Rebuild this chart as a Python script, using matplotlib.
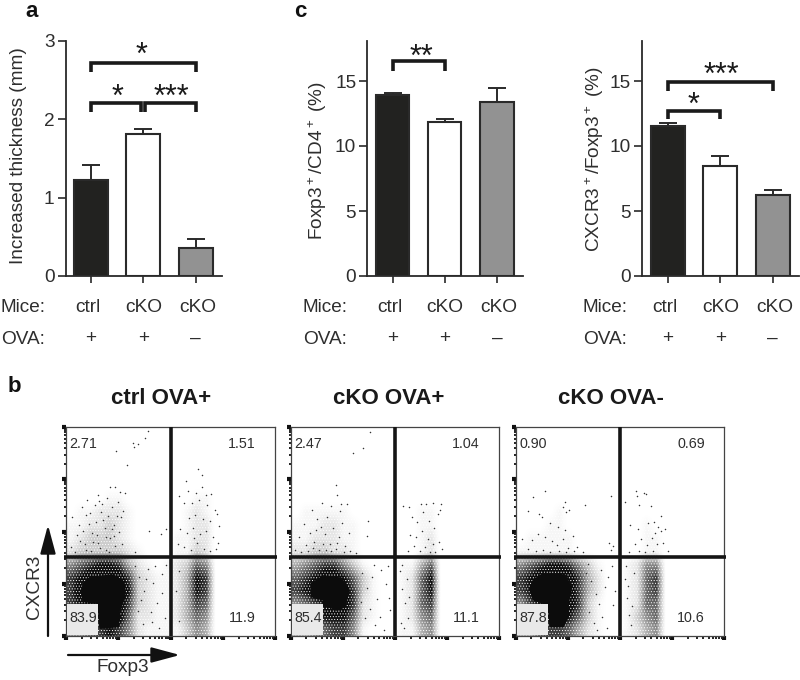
"""Footpad thickness, Treg percentages and CXCR3/Foxp3 flow plots (panels a, b, c)."""

import numpy as np
import matplotlib
matplotlib.use("Agg")
import matplotlib.pyplot as plt
from matplotlib.colors import LinearSegmentedColormap, PowerNorm
from matplotlib.patches import Polygon, Rectangle

plt.rcParams["font.family"] = ["Liberation Sans", "DejaVu Sans"]
plt.rcParams["mathtext.default"] = "regular"
plt.rcParams["hatch.linewidth"] = 0.4

# =============================================================================
# DATA
# =============================================================================

MICE = ["ctrl", "cKO", "cKO"]
OVA = ["+", "+", "–"]
BAR_COLORS = ["#222220", "#ffffff", "#929292"]

THICKNESS = [1.23, 1.81, 0.36]
THICKNESS_ERR = [0.19, 0.06, 0.11]
FOXP3_CD4 = [13.9, 11.82, 13.4]
FOXP3_CD4_ERR = [0.2, 0.23, 1.05]
CXCR3_FOXP3 = [11.5, 8.45, 6.25]
CXCR3_FOXP3_ERR = [0.25, 0.8, 0.35]

# Flow gates, panel units 0-100
GATE_X = 50
GATE_Y = 38
FLOW_MAJOR = [0, 25, 50, 75, 100]
FLOW_MINOR = [7.5, 11.9, 15, 17.5, 19.5, 21.1, 22.6, 23.9]

CTRL_LABELS = ["2.71", "1.51", "83.9", "11.9"]
CKO_POS_LABELS = ["2.47", "1.04", "85.4", "11.1"]
CKO_NEG_LABELS = ["0.90", "0.69", "87.8", "10.6"]

# Event density read by eye, 0 (empty) to 9 (solid); top row first, x 0-74, y 0-75
CTRL_DENSITY = [
    "0000000000000000",
    "0000110000000110",
    "0112221000001210",
    "1122321000001220",
    "1233321000011220",
    "2333332100011320",
    "5678874210123650",
    "7899997321124870",
    "7999998321124870",
    "7889997321124760",
    "6678996221124650",
    "5567875211113540",
]
CKO_POS_DENSITY = [
    "0000000000000000",
    "0000000000000000",
    "0111110000000110",
    "1112211000000110",
    "1122211000000120",
    "2233221000000120",
    "4567753100011460",
    "6789986310012680",
    "7899997310012680",
    "5678897210012670",
    "4568886210012560",
    "4456775100011450",
]
CKO_NEG_DENSITY = [
    "0000000000000000",
    "0000000000000000",
    "0000100000000000",
    "0001100000000100",
    "0111110000000110",
    "1111110000000110",
    "5678875310012550",
    "7899997420012670",
    "7899997420012670",
    "5789997310012660",
    "4678886310013560",
    "4467764210012450",
]

# Solid black centre of the main population
CTRL_CORE = [(8.3, 25.2), (11.5, 28.1), (22.6, 29.2), (27.7, 26), (28.2, 18.8), (25.8, 12.5),
             (25, 4.5), (16.2, 3.7), (15.4, 15.7), (8.3, 16.5), (7.5, 21.2)]
CKO_POS_CORE = [(10, 25.2), (15.6, 28.8), (24.4, 27.7), (27.8, 22), (26.1, 14), (22.1, 12.5),
                (15.7, 14.9), (15.7, 17.3), (10, 18.8)]
CKO_NEG_CORE = [(8.5, 26.8), (13.3, 30), (23.6, 29.2), (26.8, 23.6), (25.2, 15.7), (25.2, 9.3),
                (22.8, 4.5), (16.5, 4.5), (15.7, 14.9), (8.5, 17.3), (6.9, 22)]

# Individual events that stand out from the density
CTRL_DOTS = [
    (39.3, 98.4), (37.7, 94.7), (34.6, 92), (32.6, 90.4), (32.2, 92.6), (23.9, 88.8), (29, 82),
    (21, 71.6), (23.4, 71.6), (28.2, 68.7), (25.8, 69.2), (15.4, 67.6), (3.1, 57.2), (5.2, 48.3),
    (2.4, 42.6), (7.7, 61.8), (8.9, 44.1), (6.3, 53.4), (10.2, 65.3), (11.6, 58.7), (12.4, 49.2),
    (9.7, 41.4), (13.8, 62.6), (14.1, 54.8), (15.3, 44.7), (16.7, 59.3), (17.2, 63.4), (18.4, 51.6),
    (18.9, 41.2), (19.6, 66.1), (20.3, 57.4), (21.2, 46.8), (22.1, 61.7), (22.8, 53.2), (23.6, 42.9),
    (24.7, 64.3), (25.3, 49.7), (26.2, 56.8), (26.9, 44.2), (27.4, 60.1), (4.4, 40.2), (6.8, 45.6),
    (12.1, 40.7), (14.9, 48.6), (16.2, 42.3), (19.1, 47.4), (20.7, 40.4), (23.1, 48.1), (11.2, 53.6),
    (8.2, 50.1), (13.1, 44.9), (17.8, 55.7), (21.8, 51.3), (24.2, 57.6), (15.8, 64.9), (9.4, 57.8),
    (39.6, 50.2), (45.2, 48.7), (47.8, 51.4), (33.1, 40.3),
    (62.9, 79.8), (64.8, 77.1), (57.4, 74.3), (65.1, 71.3), (58.3, 69.4), (62.2, 68.7), (66.8, 67.4),
    (69.4, 68.1), (53.8, 67.2), (56.4, 63.6), (60.1, 63.7), (63.6, 65.4), (67.2, 62.7), (71.1, 60.6),
    (72.3, 58.3), (58.7, 56.7), (61.8, 58.1), (65.3, 56.2), (68.6, 54.9), (73.1, 52.7), (54.6, 51.4),
    (57.9, 49.2), (60.8, 51.6), (64.1, 48.7), (67.1, 50.4), (70.4, 47.3), (72.8, 44.6), (53.3, 44.1),
    (56.2, 42.7), (59.6, 41.2), (62.7, 44.8), (65.8, 41.9), (68.9, 40.7), (71.7, 41.6), (61.2, 47.1),
    (35.1, 28.4), (37.4, 21.7), (39.2, 32.1), (41.6, 25.3), (43.4, 15.8), (45.7, 29.6), (47.2, 8.4),
    (34.3, 12.1), (36.8, 5.7), (40.5, 11.3), (42.7, 33.6), (46.1, 20.7), (38.3, 27.1), (44.4, 3.9),
    (33.2, 33.7), (35.9, 17.2), (41.2, 6.8), (47.9, 34.1), (52.6, 21.4), (53.8, 7.2), (54.2, 31.3),
]

CKO_POS_DOTS = [
    (38, 97.6), (34.8, 90), (30, 87.9), (21.6, 72.4), (22, 67.6), (37, 55), (36.8, 47.9),
    (24.1, 63.2), (23.8, 60.1), (19.2, 62.1), (15.1, 63.8), (27.1, 63.2), (10.3, 60.4), (12.7, 56.3),
    (6.4, 53.7), (3.8, 47.2), (2.2, 41.3), (7.2, 43.6), (9.1, 49.2), (11.2, 45.1), (13.6, 41.2),
    (14.7, 52.4), (16.3, 48.7), (17.6, 56.8), (18.8, 44.3), (20.1, 51.6), (21.7, 41.7), (23.2, 47.4),
    (24.7, 54.1), (26.1, 43.2), (27.9, 49.3), (4.9, 40.4), (8.3, 40.9), (12.2, 50.7), (15.6, 44.2),
    (19.3, 40.6), (22.3, 44.7), (28.4, 40.9), (31.2, 39.7), (10.6, 42.3), (16.9, 41.1), (25.6, 40.2),
    (53.8, 62.3), (56.7, 61.9), (62.4, 63.3), (65.1, 63.2), (68.2, 63.8), (72.1, 63.4), (71.4, 60.6),
    (70.6, 58.3), (58.1, 57.2), (60.6, 54.7), (63.4, 59.2), (66.3, 55.1), (68.8, 51.7), (57.4, 48.3),
    (60.1, 47.2), (62.9, 50.1), (65.7, 46.3), (68.1, 44.2), (70.9, 45.1), (59.1, 43.3), (61.8, 40.9),
    (64.2, 42.7), (66.8, 40.4), (69.4, 40.1), (56.2, 40.8), (72.6, 41.6),
    (34.1, 30.2), (36.7, 23.1), (38.9, 28.4), (41.3, 17.6), (43.2, 31.7), (45.8, 24.9), (47.6, 12.3),
    (35.4, 8.7), (37.8, 13.1), (40.2, 5.4), (42.6, 9.2), (44.7, 2.8), (46.6, 33.4), (33.6, 16.2),
    (39.7, 34.2), (46.9, 18.3), (52.6, 31.1), (53.4, 22.4), (54.7, 15.8), (52.8, 6.3), (55.6, 27.4),
    (56.1, 8.8), (53.2, 34.1), (54.4, 3.7), (56.8, 18.6),
]

CKO_NEG_DOTS = [
    (14, 69.7), (8.5, 66.8), (23.4, 64.2), (22.8, 61.8), (24.1, 59.2), (25.6, 60.6), (33.1, 62.7),
    (45.6, 67.1), (6.1, 59.7), (11.2, 58.3), (12.8, 57.1), (16.4, 54.1), (20.1, 52.4), (23.7, 50.8),
    (27.6, 48.1), (3.2, 46.7), (7.8, 46.2), (10.7, 48.9), (14.1, 47.2), (17.2, 45.3), (19.8, 43.4),
    (22.6, 46.7), (25.3, 42.2), (29.4, 42.6), (32.1, 40.3), (5.7, 41.6), (9.6, 40.7), (13.2, 41.2),
    (16.6, 40.3), (20.6, 40.6), (24.1, 40.2), (27.8, 40.9), (44.6, 44.8), (45.8, 41.4), (46.7, 43.2),
    (52.3, 64.2), (57.7, 69.4), (58.2, 67.2), (61.4, 68.7), (62.7, 67.9), (59.1, 62.6), (64.8, 62.3),
    (69.6, 57.7), (54.8, 53.4), (58.7, 51.3), (63.2, 54.1), (66.1, 54.6), (68.2, 52.3), (69.8, 50.1),
    (71.7, 51.2), (66.9, 49.2), (65.3, 47.1), (60.2, 46.7), (57.3, 44.2), (62.8, 43.6), (67.8, 43.9),
    (70.8, 44.7), (54.2, 40.4), (58.9, 40.9), (62.1, 40.2), (65.7, 40.7), (73.1, 40.9),
    (33.6, 30.2), (36.1, 26.3), (38.4, 20.1), (40.7, 31.6), (42.6, 23.7), (44.3, 28.1), (46.7, 14.8),
    (35.2, 11.7), (37.3, 6.4), (39.8, 15.2), (41.6, 9.3), (43.8, 3.6), (46.1, 33.7), (47.4, 21.6),
    (34.7, 34.4), (38.9, 3.1), (52.3, 27.3), (53.2, 18.4), (54.1, 10.1), (52.7, 33.4), (55.3, 5.2),
    (53.9, 24.1), (55.8, 14.3), (56.7, 30.1),
]

# =============================================================================
# HELPERS
# =============================================================================

TEXT = "#2e2e2e"
FIG_W, FIG_H = 800, 680
DENSITY_CMAP = LinearSegmentedColormap.from_list("events", ["#ffffff", "#0c0c0c"])


def _px_axes(fig, left, top, right, bottom):
    """Axes placed by pixel edges, y measured from the top of the figure."""
    return fig.add_axes([left / FIG_W, 1 - bottom / FIG_H,
                         (right - left) / FIG_W, (bottom - top) / FIG_H])


def _bracket(ax, x0, x1, y, y_leg):
    ax.plot([x0, x0, x1, x1], [y_leg, y, y, y_leg], color="#1a1a1a", lw=2.6,
            solid_joinstyle="miter", solid_capstyle="butt", clip_on=False, zorder=5)


def _bar_panel(fig, left, right, values, errs, ylim, yticks, x_lo):
    ax = _px_axes(fig, left, 40.7, right, 276)
    xs = np.arange(len(values))
    ax.bar(xs, values, width=0.64, color=BAR_COLORS, edgecolor="#2a2a2a", linewidth=1.5, zorder=3)
    ax.errorbar(xs, values, yerr=[[0] * len(errs), errs], fmt="none", ecolor="#2a2a2a",
                elinewidth=1.4, capsize=6.6, capthick=1.4, zorder=2)
    ax.set_xlim(x_lo, 2.5)
    ax.set_ylim(*ylim)
    ax.set_yticks(yticks)
    ax.set_xticks(xs)
    ax.set_xticklabels([])
    ax.tick_params(axis="y", length=6, width=1.2, color="#2a2a2a", labelcolor=TEXT,
                   labelsize=13.7, pad=2)
    ax.tick_params(axis="x", length=5, width=1.2, color="#2a2a2a")
    for side in ("top", "right"):
        ax.spines[side].set_visible(False)
    for side in ("left", "bottom"):
        ax.spines[side].set_linewidth(1.3)
        ax.spines[side].set_color("#2a2a2a")
    ax.patch.set_alpha(0)
    trans = ax.get_xaxis_transform()
    for x, m, o, dx in zip(xs, MICE, OVA, (-0.05, 0, 0.04)):
        ax.text(x + dx, -0.132, m, transform=trans, ha="center", va="center",
                fontsize=13.8, color=TEXT)
        ax.text(x, -0.265, o, transform=trans, ha="center", va="center",
                fontsize=13.8, color=TEXT)
    return ax


def _flow_panel(fig, left, right, labels, density, core, dots, box_right):
    ax = _px_axes(fig, left, 427.3, right, 636)

    grid = np.array([[int(c) for c in row] for row in density], dtype=float)
    ax.imshow(grid, extent=(0, 74, 0, 75), cmap=DENSITY_CMAP,
              norm=PowerNorm(gamma=1.6, vmin=0, vmax=8, clip=True),
              interpolation="bilinear", aspect="auto", origin="upper", zorder=1)
    ax.set_xlim(0, 100)
    ax.set_ylim(0, 100)

    # fine white grain so the shading reads as dots rather than a smooth wash
    ax.add_patch(Rectangle((0, 0), 74, 75, fill=False, hatch="......", edgecolor="white",
                           lw=0, zorder=1.5))
    ax.add_patch(Polygon(core, closed=True, facecolor="#0c0c0c", edgecolor="#0c0c0c",
                         lw=1.0, zorder=2))
    pts = np.array(dots)
    ax.scatter(pts[:, 0], pts[:, 1], s=1.2, color="#333333", linewidths=0, zorder=2.5)
    ax.add_patch(Rectangle((0.6, 0.5), box_right - 0.6, 14.8, facecolor="#e9e9e9",
                           edgecolor="none", zorder=3))

    ax.plot([GATE_X, GATE_X], [0, 100], color="#151515", lw=2.6, solid_capstyle="butt", zorder=4)
    ax.plot([-1, 100.8], [GATE_Y, GATE_Y], color="#151515", lw=2.6, solid_capstyle="butt",
            clip_on=False, zorder=4)

    minor = [b + m for b in FLOW_MAJOR[:-1] for m in FLOW_MINOR]
    for axis in (ax.xaxis, ax.yaxis):
        axis.set_ticks(FLOW_MAJOR)
        axis.set_ticks(minor, minor=True)
        axis.set_ticklabels([])
    ax.tick_params(which="major", length=3.2, width=3, color="#111111")
    ax.tick_params(which="minor", length=1.8, width=1.4, color="#222222")
    for spine in ax.spines.values():
        spine.set_linewidth(0.9)
        spine.set_color("#444444")

    for (x, y), label in zip([(8.2, 92), (84, 92), (8.2, 8.8), (84, 8.8)], labels):
        ax.text(x, y, label, ha="center", va="center", fontsize=10.3, color=TEXT, zorder=6)
    return ax


# =============================================================================
# MAIN
# =============================================================================

def main():
    fig = plt.figure(figsize=(8, 6.8), dpi=100, facecolor="white")

    # ── Panel a ───────────────────────────────────────────────────────────────
    ax_a = _bar_panel(fig, 65.7, 222, THICKNESS, THICKNESS_ERR, (0, 3), [0, 1, 2, 3], -0.478)
    _bracket(ax_a, 0, 2, 2.72, 2.6)
    _bracket(ax_a, 0, 0.96, 2.2, 2.09)
    _bracket(ax_a, 1.04, 2, 2.2, 2.09)

    # ── Panel c ───────────────────────────────────────────────────────────────
    ax_c1 = _bar_panel(fig, 367.3, 523, FOXP3_CD4, FOXP3_CD4_ERR, (0, 18.1), [0, 5, 10, 15], -0.487)
    _bracket(ax_c1, 0, 1, 16.5, 15.8)
    ax_c2 = _bar_panel(fig, 642, 799, CXCR3_FOXP3, CXCR3_FOXP3_ERR, (0, 18.1), [0, 5, 10, 15], -0.491)
    _bracket(ax_c2, 0, 2, 14.95, 14.2)
    _bracket(ax_c2, 0, 1, 12.7, 12.05)

    # ── Panel b ───────────────────────────────────────────────────────────────
    _flow_panel(fig, 66, 275.3, CTRL_LABELS, CTRL_DENSITY, CTRL_CORE, CTRL_DOTS, 15.4)
    _flow_panel(fig, 290.7, 499.3, CKO_POS_LABELS, CKO_POS_DENSITY, CKO_POS_CORE, CKO_POS_DOTS, 15.7)
    _flow_panel(fig, 515.7, 724.3, CKO_NEG_LABELS, CKO_NEG_DENSITY, CKO_NEG_CORE, CKO_NEG_DOTS, 15.7)

    # ── Free text and arrows, placed in figure pixels ─────────────────────────
    over = fig.add_axes([0, 0, 1, 1], zorder=10)
    over.set_xlim(0, FIG_W)
    over.set_ylim(FIG_H, 0)
    over.axis("off")

    def put(x, y, s, **kw):
        kw.setdefault("fontsize", 13.7)
        kw.setdefault("color", TEXT)
        kw.setdefault("ha", "center")
        kw.setdefault("va", "center")
        over.text(x, y, s, **kw)

    for x, letter, y in [(32, "a", 17), (14, "b", 392), (300, "c", 17)]:
        put(x, y, letter, fontsize=16, fontweight="bold", color="#111111", va="baseline")

    for x, title in [(161, "ctrl OVA+"), (388.7, "cKO OVA+"), (611, "cKO OVA-")]:
        put(x, 398, title, fontsize=16, fontweight="bold", color="#1a1a1a")

    for x in (1, 303, 583):
        put(x, 307, "Mice:", ha="left")
        put(x, 339, "OVA:", ha="left")

    put(19, 156, "Increased thickness (mm)", rotation=90)
    put(318, 160, "Foxp3$^+$/CD4$^+$ (%)", rotation=90)
    put(595, 159, "CXCR3$^+$/Foxp3$^+$ (%)", rotation=90)

    for x, y, stars in [(141.7, 56, "*"), (118, 98, "*"), (171, 98, "***"),
                        (421.7, 58, "**"), (721, 76, "***"), (694, 106, "*")]:
        put(x, y, stars, fontsize=22, color="#1a1a1a")

    put(35, 586.7, "CXCR3", rotation=90)
    put(123, 667.7, "Foxp3")
    arrow = dict(arrowstyle="-|>,head_length=1.75,head_width=0.47", mutation_scale=10,
                 color="#111111", lw=1.6, shrinkA=0, shrinkB=0)
    over.annotate("", xy=(48, 525), xytext=(48, 636), arrowprops=arrow)
    over.annotate("", xy=(180, 655), xytext=(68, 655), arrowprops=arrow)

    fig.savefig("out.png", dpi=100, facecolor="white")
    plt.close(fig)


if __name__ == "__main__":
    main()
